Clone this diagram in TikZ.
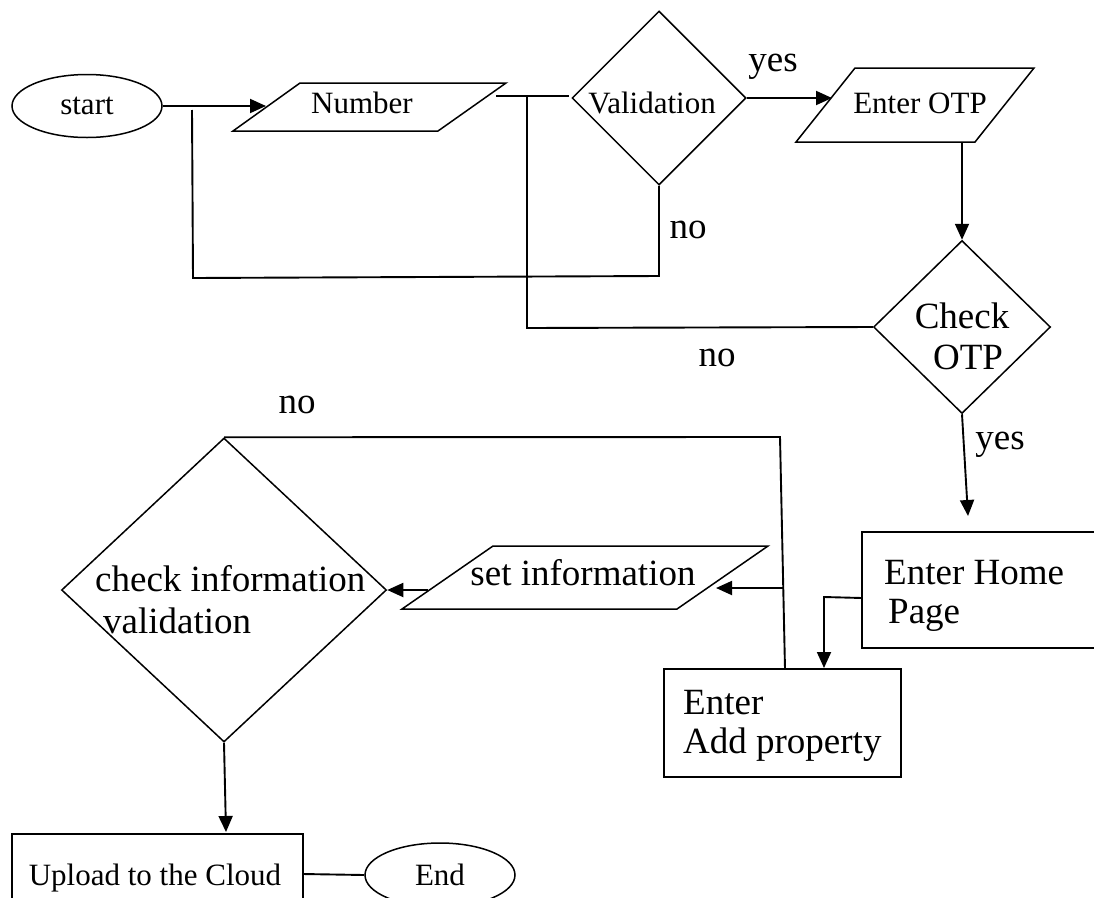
\documentclass[tikz,border=0pt]{standalone}
\usepackage{fontspec}
\setmainfont{Liberation Serif}
\usetikzlibrary{shapes.geometric,arrows.meta}
\begin{document}
\begin{tikzpicture}[x=1pt,y=-1pt,
  shp/.style={draw=black,line width=1.5pt},
  conn/.style={draw=black,line width=1.9pt},
  arr/.style={conn,-{Triangle[length=16pt,width=14pt]}},
  sm/.style={font=\fontsize{31}{36}\selectfont,inner sep=0pt},
  lg/.style={font=\fontsize{37}{44}\selectfont,inner sep=0pt},
  oval/.style={ellipse,shp,inner sep=0pt,minimum width=150pt,minimum height=63pt,font=\fontsize{31}{36}\selectfont},
  dec/.style={diamond,shp,inner sep=0pt},
  box/.style={rectangle,shp,inner sep=0pt},
]
\useasboundingbox (0,0) rectangle (1094,897);
\clip (0,0) rectangle (1094,897);

% start and Number
\node[oval] (start) at (87,106) {start};
\coordinate (numTL) at (300,83);
\coordinate (numTR) at (506,83);
\coordinate (numBR) at (438,131);
\coordinate (numBL) at (233,131);
\draw[shp] (numTL) -- (numTR) -- (numBR) -- (numBL) -- cycle;
\node[sm] (numT) at (362,103) {Number};
\coordinate (numIn) at (266,106);
\draw[arr] (start.east) -- (numIn);

% Validation
\node[dec,minimum width=174pt,minimum height=174pt] (val) at (659,98) {};
\node[sm] (valT) at (652,103) {Validation};
\coordinate (numOut) at (496,96);
\coordinate (valIn) at (569,96);
\draw[conn] (numOut) -- (valIn);
\node[lg] (yes1) at (773,67) {yes};

% Enter OTP
\coordinate (otpTL) at (855,68);
\coordinate (otpTR) at (1034,68);
\coordinate (otpBR) at (975,142);
\coordinate (otpBL) at (796,142);
\draw[shp] (otpTL) -- (otpTR) -- (otpBR) -- (otpBL) -- cycle;
\node[sm] (otpT) at (920,103) {Enter OTP};
\coordinate (otpIn) at (832,98);
\draw[arr] (val.east) -- (otpIn);

% Check OTP
\node[dec,minimum width=177pt,minimum height=173pt] (chk) at (962,327) {};
\node[lg,anchor=base] (chkT1) at (962,328) {Check};
\node[lg,anchor=base] (chkT2) at (968,369) {OTP};
\coordinate (otpOut) at (962,142);
\draw[arr] (otpOut) -- (chk.north);

% "no" loops
\coordinate (j1) at (527,96);
\coordinate (j2) at (527,328);
\draw[conn] (chk.west) -- (j2) -- (j1);
\coordinate (v1) at (659,276);
\coordinate (v2) at (193,278);
\coordinate (v3) at (192,110);
\draw[conn] (val.south) -- (v1) -- (v2) -- (v3);
\node[lg] (no1) at (688,230) {no};
\node[lg] (no2) at (717,358) {no};

% Home page
\node[lg] (yes2) at (1000,445) {yes};
\node[box,minimum width=260pt,minimum height=116pt] (home) at (992,590) {};
\coordinate (homeIn) at (968,516);
\draw[arr] (chk.south) -- (homeIn);
\node[lg,anchor=base west] (homeT1) at (884,584) {Enter Home};
\node[lg,anchor=base west] (homeT2) at (888,623) {Page};

% Add property
\node[box,minimum width=237pt,minimum height=108pt] (add) at (782.5,723) {};
\node[lg,anchor=base west] (addT1) at (683,714) {Enter};
\node[lg,anchor=base west] (addT2) at (683,753) {Add property};
\coordinate (h1) at (862,598);
\coordinate (h2) at (824,597);
\coordinate (h3) at (824,668);
\draw[arr] (h1) -- (h2) -- (h3);

% check information validation
\node[dec,minimum width=325pt,minimum height=304pt] (ci) at (224,590) {};
\node[lg,anchor=base west] (ciT1) at (95,591) {check information};
\node[lg,anchor=base west] (ciT2) at (103,633) {validation};
\coordinate (a1) at (785,669);
\coordinate (a2) at (780,437);
\draw[conn] (a1) -- (a2) -- (ci.north);
\node[lg] (no3) at (297,405) {no};

% set information
\coordinate (setTL) at (493,546);
\coordinate (setTR) at (768,546);
\coordinate (setBR) at (677,609);
\coordinate (setBL) at (402,609);
\draw[shp] (setTL) -- (setTR) -- (setBR) -- (setBL) -- cycle;
\node[lg,anchor=base] (setT) at (583,585) {set information};
\coordinate (s1) at (783,588);
\coordinate (setIn) at (716,588);
\draw[arr] (s1) -- (setIn);
\coordinate (setOut) at (428,590);
\draw[arr] (setOut) -- (ci.east);

% Upload and End
\node[box,minimum width=291pt,minimum height=100pt] (up) at (157.5,884) {};
\node[sm,anchor=base] (upT) at (155,885) {Upload to the Cloud};
\coordinate (upIn) at (226,832);
\draw[arr] (ci.south) -- (upIn);
\node[oval,minimum height=64pt] (end) at (440,875) {End};
\coordinate (u1) at (303,874);
\draw[conn] (u1) -- (end.west);
\end{tikzpicture}
\end{document}
